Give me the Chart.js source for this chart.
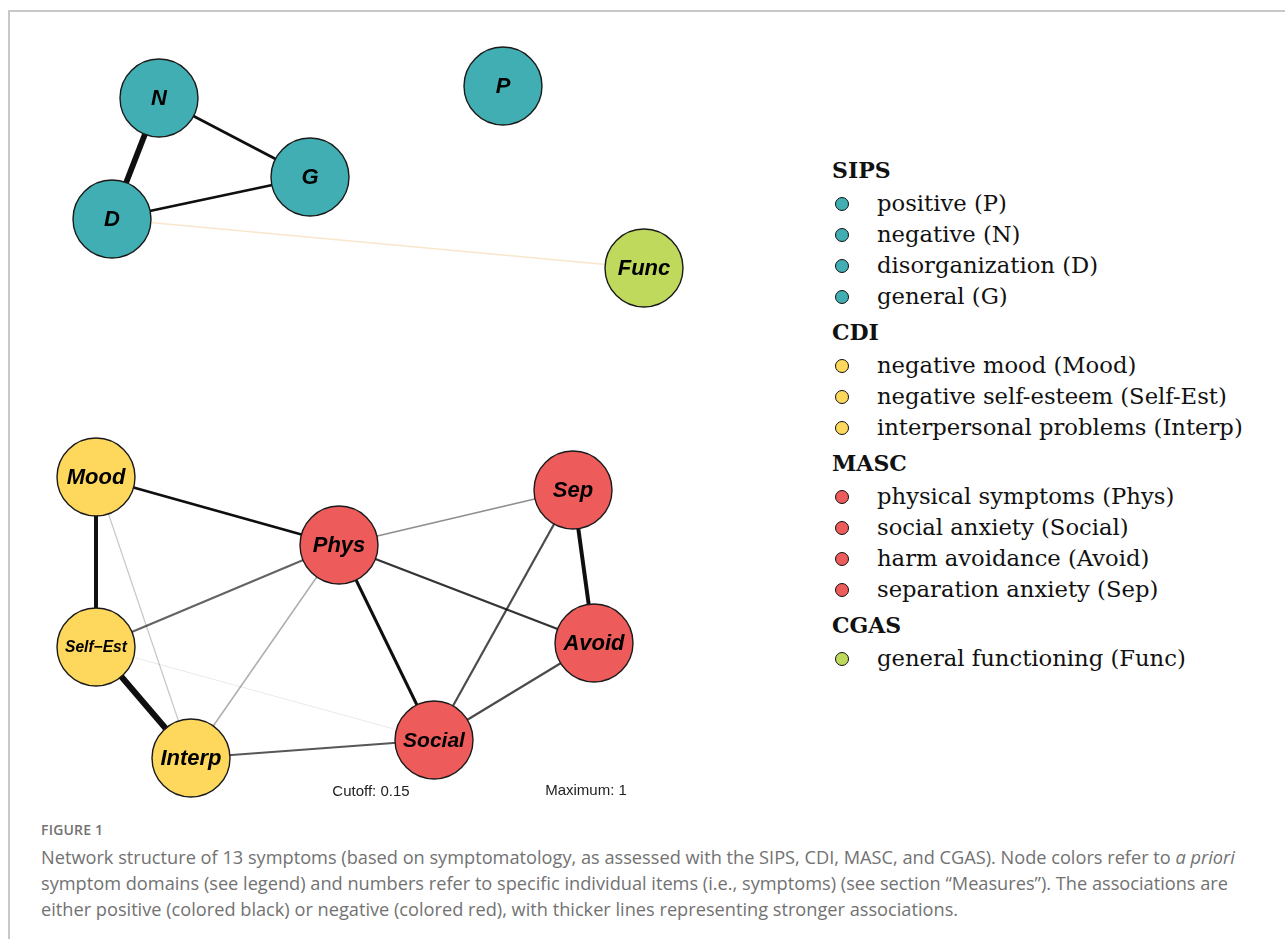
<!DOCTYPE html>
<html>
<head>
<meta charset="utf-8">
<script src="https://cdn.jsdelivr.net/npm/chart.js"></script>
<style>
    html, body { margin: 0; padding: 0; background: #fff; }
    body { width: 1285px; height: 939px; position: relative; overflow: hidden; }
    #marco { position: absolute; left: 8px; top: 10px; right: 0; bottom: 0; border-left: 2px solid #c8c8c8; border-top: 2px solid #c8c8c8; }
    #red { position: absolute; left: 0; top: 0; width: 800px; height: 820px; }
    #leyenda { position: absolute; left: 832px; top: 150px; font-family: "DejaVu Serif", serif; color: #111; }
    #leyenda .grupo { font-weight: bold; font-size: 22px; height: 36px; line-height: 36px; margin-top: 2px; }
    #leyenda .item { font-size: 22.7px; height: 31px; line-height: 31px; position: relative; padding-left: 45px; white-space: nowrap; }
    #leyenda .item span { position: absolute; left: 3px; top: 8.5px; width: 12px; height: 12px; border-radius: 50%; border: 1.8px solid #111; }
    .nota { position: absolute; font-family: "Liberation Sans", Arial, sans-serif; font-size: 15px; color: #222; transform: translateX(-50%); }
    #pie { position: absolute; left: 41px; top: 820px; font-family: "Open Sans", sans-serif; color: #727272; white-space: nowrap; }
    #pie .fig { font-size: 14px; font-weight: 600; letter-spacing: 0.2px; margin-bottom: 5px; }
    #pie .txt { font-size: 18.2px; line-height: 26px; }
</style>
</head>
<body>
<div id="marco"></div>
<canvas id="red" width="800" height="820"></canvas>
<div class="nota" style="left:371px; top:782px;">Cutoff: 0.15</div>
<div class="nota" style="left:586px; top:781px;">Maximum: 1</div>
<div id="leyenda"></div>
<div id="pie">
    <div class="fig">FIGURE 1</div>
    <div class="txt">Network structure of 13 symptoms (based on symptomatology, as assessed with the SIPS, CDI, MASC, and CGAS). Node colors refer to <i>a priori</i><br>symptom domains (see legend) and numbers refer to specific individual items (i.e., symptoms) (see section “Measures”). The associations are<br>either positive (colored black) or negative (colored red), with thicker lines representing stronger associations.</div>
</div>
<script>
// Nodos de la red (posiciones del layout)
const nodos = ['P', 'N', 'D', 'G', 'Func', 'Mood', 'Self\u2212Est', 'Interp', 'Phys', 'Social', 'Avoid', 'Sep'];
const nodoX = [503, 159, 112, 310, 644, 96, 96, 191, 339, 434, 594, 573];
const nodoY = [86, 98, 219, 177, 268, 477, 647, 758, 545, 740, 643, 490];
const nodoGrupo = ['SIPS', 'SIPS', 'SIPS', 'SIPS', 'CGAS', 'CDI', 'CDI', 'CDI', 'MASC', 'MASC', 'MASC', 'MASC'];

// Aristas: pesos de asociación parcial (negativo = rojo)
const aristaDesde = ['N', 'N', 'D', 'D', 'Mood', 'Mood', 'Mood', 'Self\u2212Est', 'Self\u2212Est', 'Self\u2212Est', 'Interp', 'Interp', 'Phys', 'Phys', 'Phys', 'Sep', 'Sep', 'Avoid'];
const aristaHasta = ['D', 'G', 'G', 'Func', 'Self\u2212Est', 'Phys', 'Interp', 'Interp', 'Phys', 'Social', 'Phys', 'Social', 'Sep', 'Avoid', 'Social', 'Avoid', 'Social', 'Social'];
const aristaPeso = [0.65, 0.25, 0.26, -0.09, 0.42, 0.28, 0.08, 0.68, 0.18, 0.04, 0.11, 0.19, 0.14, 0.22, 0.30, 0.42, 0.20, 0.20];

// Leyenda
const grupos = ['SIPS', 'CDI', 'MASC', 'CGAS'];
const leyendaItems = {
    SIPS: ['positive (P)', 'negative (N)', 'disorganization (D)', 'general (G)'],
    CDI: ['negative mood (Mood)', 'negative self-esteem (Self-Est)', 'interpersonal problems (Interp)'],
    MASC: ['physical symptoms (Phys)', 'social anxiety (Social)', 'harm avoidance (Avoid)', 'separation anxiety (Sep)'],
    CGAS: ['general functioning (Func)']
};

const colores = { SIPS: '#40AEB2', CDI: '#FDD85C', MASC: '#ED5B5B', CGAS: '#BFD95C' };

const construirLeyenda = () => {
    const cont = document.getElementById('leyenda');
    grupos.forEach((g) => {
        const h = document.createElement('div');
        h.className = 'grupo';
        h.textContent = g;
        cont.appendChild(h);
        leyendaItems[g].forEach((t) => {
            const it = document.createElement('div');
            it.className = 'item';
            it.innerHTML = '<span style="background:' + colores[g] + '"></span>' + t;
            cont.appendChild(it);
        });
    });
};

// Ancho y opacidad según el peso (las aristas débiles se desvanecen)
const estiloArista = (w) => {
    const a = Math.min(1, Math.pow(Math.abs(w) / 0.25, 1.3));
    return {
        ancho: 0.6 + Math.abs(w) * 8,
        color: w >= 0 ? 'rgba(15,15,15,' + a + ')' : 'rgba(232,160,64,' + a + ')'
    };
};

// Etiquetas dentro de los nodos
const etiquetasNodos = {
    id: 'etiquetasNodos',
    afterDatasetsDraw(chart) {
        const meta = chart.getDatasetMeta(chart.data.datasets.length - 1);
        const ctx = chart.ctx;
        ctx.save();
        ctx.fillStyle = '#000';
        ctx.textAlign = 'center';
        ctx.textBaseline = 'middle';
        meta.data.forEach((pt, i) => {
            const txt = nodos[i];
            ctx.font = 'italic bold 22px "Liberation Sans", Arial, sans-serif';
            const w = ctx.measureText(txt).width;
            const size = Math.min(22, 22 * 62 / w);
            ctx.font = 'italic bold ' + size.toFixed(1) + 'px "Liberation Sans", Arial, sans-serif';
            ctx.fillText(txt, pt.x, pt.y + 1);
        });
        ctx.restore();
    }
};

const inicializarRed = () => {
    const datasets = aristaDesde.map((desde, i) => {
        const a = nodos.indexOf(desde);
        const b = nodos.indexOf(aristaHasta[i]);
        const est = estiloArista(aristaPeso[i]);
        return {
            data: [{ x: nodoX[a], y: nodoY[a] }, { x: nodoX[b], y: nodoY[b] }],
            showLine: true,
            borderColor: est.color,
            borderWidth: est.ancho,
            pointRadius: 0,
            order: 2,
            clip: false
        };
    });
    datasets.push({
        data: nodos.map((n, i) => ({ x: nodoX[i], y: nodoY[i] })),
        pointRadius: 39,
        pointHoverRadius: 39,
        backgroundColor: nodoGrupo.map(g => colores[g]),
        borderColor: '#1a1a1a',
        borderWidth: 1.4,
        order: 0,
        clip: false
    });

    new Chart(document.getElementById('red').getContext('2d'), {
        type: 'scatter',
        data: { datasets },
        options: {
            responsive: false,
            animation: false,
            layout: { padding: 0, autoPadding: false },
            scales: {
                x: { display: false, min: 0, max: 800 },
                y: { display: false, min: 0, max: 820, reverse: true }
            },
            plugins: {
                legend: { display: false },
                tooltip: { enabled: false }
            },
            events: []
        },
        plugins: [etiquetasNodos]
    });
};

construirLeyenda();
inicializarRed();
</script>
</body>
</html>
